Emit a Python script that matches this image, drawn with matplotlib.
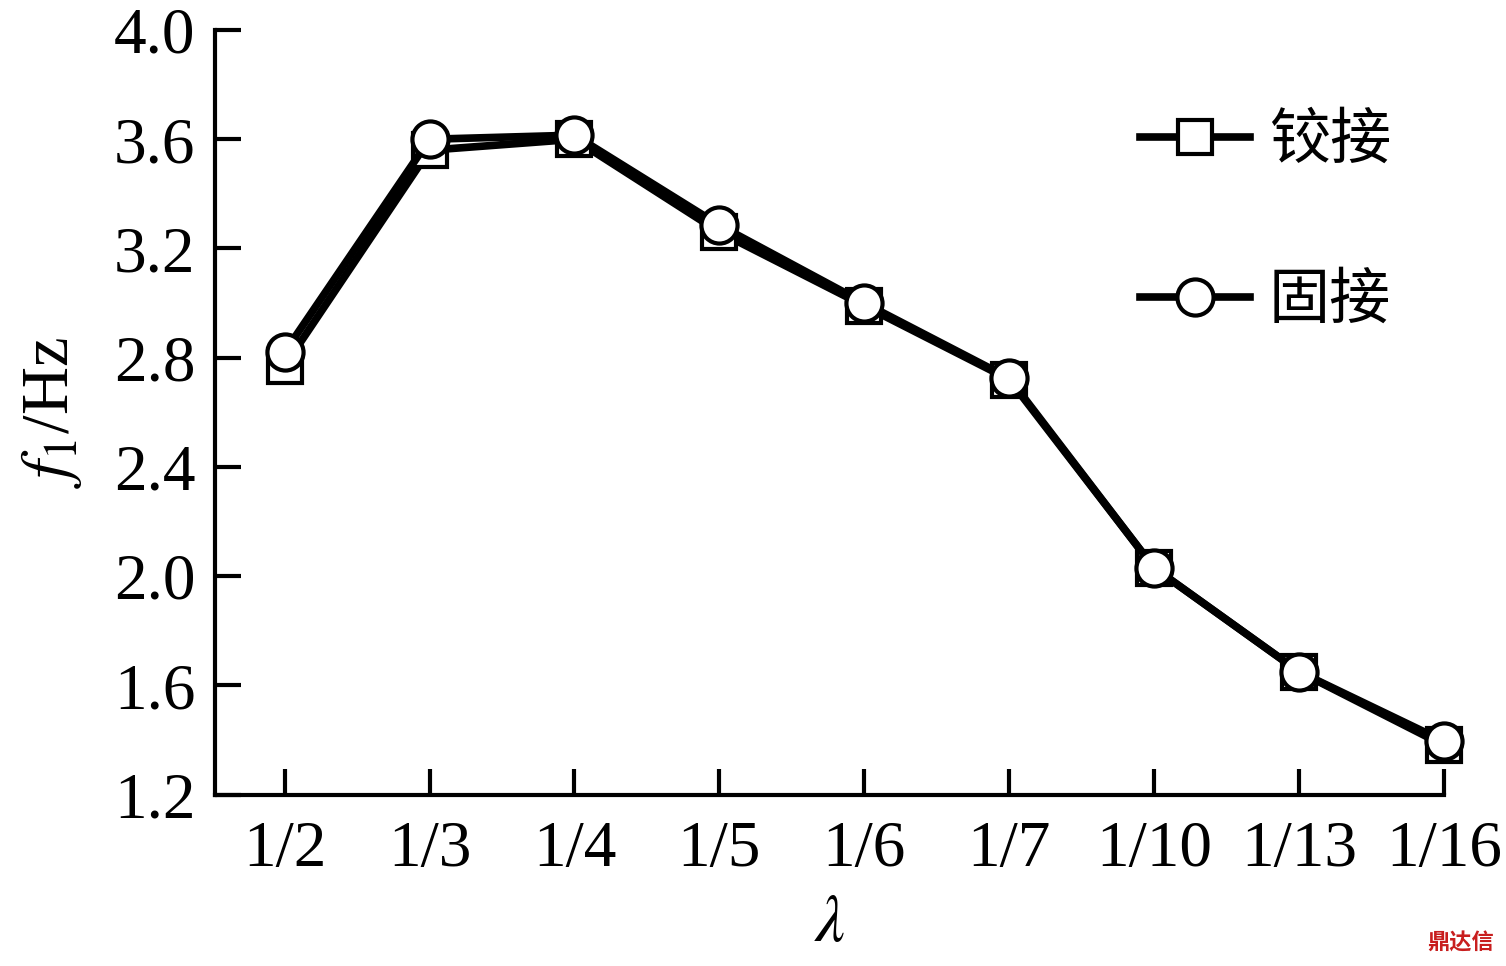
import matplotlib
matplotlib.use("Agg")
import matplotlib.pyplot as plt
import numpy as np

plt.rcParams['font.family'] = ['Liberation Serif', 'Noto Sans CJK SC', 'DejaVu Sans']
plt.rcParams['mathtext.fontset'] = 'stix'

# data
categories = ['1/2', '1/3', '1/4', '1/5', '1/6', '1/7', '1/10', '1/13', '1/16']
hinged = [2.77, 3.56, 3.60, 3.26, 2.99, 2.72, 2.03, 1.65, 1.38]   # 铰接
fixed = [2.82, 3.60, 3.615, 3.285, 3.00, 2.725, 2.03, 1.65, 1.395]  # 固接
yticks = [1.2, 1.6, 2.0, 2.4, 2.8, 3.2, 3.6, 4.0]

fig = plt.figure(figsize=(15.06, 9.66), dpi=100)
ax = fig.add_axes([0.1428, 0.1775, 0.816, 0.7914])

x = np.arange(len(categories))
ax.plot(x, hinged, color='black', lw=5.5, marker='s', ms=25, mfc='white',
        mec='black', mew=3, label='铰接', clip_on=False)
ax.plot(x, fixed, color='black', lw=5.5, marker='o', ms=26, mfc='white',
        mec='black', mew=3, label='固接', clip_on=False)

ax.set_xlim(-0.48, 8)
ax.set_ylim(1.2, 4.0)
ax.set_xticks(x)
ax.set_xticklabels(categories)
ax.set_yticks(yticks)
ax.set_yticklabels([f'{v:.1f}' for v in yticks])
ax.tick_params(direction='in', length=19, width=3, labelsize=47)
ax.tick_params(axis='x', pad=19)
ax.tick_params(axis='y', pad=14)

for s in ['top', 'right']:
    ax.spines[s].set_visible(False)
for s in ['left', 'bottom']:
    ax.spines[s].set_linewidth(3)

ax.set_xlabel(r'$\lambda$', fontsize=48, labelpad=10)
ax.set_ylabel(r'$f_1$/Hz', fontsize=48, labelpad=22)

leg = ax.legend(loc='upper left', bbox_to_anchor=(0.741, 0.912),
                bbox_transform=fig.transFigure, frameon=False, numpoints=1,
                handlelength=1.8, handletextpad=0.3, labelspacing=1.6,
                borderaxespad=0, prop={'family': 'Noto Sans CJK SC', 'size': 44})

fig.text(0.992, 0.012, '鼎达信', color='#c81e1e', fontsize=16, fontweight='bold',
         family='Noto Sans CJK SC', ha='right', va='bottom')

fig.savefig('out.png', dpi=100)
